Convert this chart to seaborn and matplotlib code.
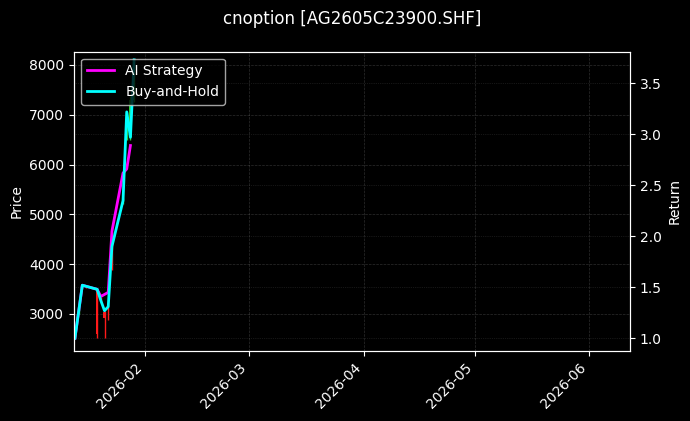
import matplotlib
matplotlib.use("Agg")
import matplotlib.pyplot as plt
import matplotlib.dates as mdates
import seaborn as sns
import pandas as pd
import numpy as np

# ---- data ----
dates = ["2026-01-13", "2026-01-14", "2026-01-15", "2026-01-16", "2026-01-19",
         "2026-01-20", "2026-01-21", "2026-01-22", "2026-01-23", "2026-01-26",
         "2026-01-27", "2026-01-28", "2026-01-29"]
opens  = [2530, 3000, 3540, 3570, 3500, 3300, 3040, 3150, 4350, 5240, 6600, 6550, 7300]
highs  = [2580, 3110, 3610, 3590, 3520, 3340, 3060, 3200, 4650, 5320, 7050, 7380, 7994]
lows   = [2518, 2990, 3520, 3530, 2518, 3230, 2518, 2880, 3880, 5200, 6500, 6500, 7250]
closes = [2560, 3080, 3590, 3550, 2600, 3250, 2920, 3100, 4000, 5300, 7000, 7300, 7950]
bh_returns = [1.00, 1.26, 1.52, 1.51, 1.48, 1.37, 1.27, 1.31, 1.90, 2.35, 3.22, 2.97, 3.73]
ai_returns = [1.00, 1.26, 1.52, 1.51, 1.48, 1.41, 1.43, 1.45, 2.05, 2.62, 2.66, 2.89, np.nan]
title = "cnoption [AG2605C23900.SHF]"

df = pd.DataFrame({
    "date": pd.to_datetime(dates),
    "open": opens, "high": highs, "low": lows, "close": closes,
    "bh": bh_returns, "ai": ai_returns,
})

plt.style.use("dark_background")
fig, ax1 = plt.subplots(figsize=(6.9, 4.21), dpi=100)
fig.subplots_adjust(left=74 / 690, right=630 / 690, top=1 - 51.7 / 421, bottom=1 - 350.7 / 421)

# candlesticks on price axis
up = df["close"] >= df["open"]
colors = np.where(up, "#2ecc40", "#ff1a1a")
ax1.vlines(df["date"], df["low"], df["high"], colors=colors, linewidth=1)
ax1.bar(df["date"], (df["close"] - df["open"]).abs(),
        bottom=np.minimum(df["open"], df["close"]), width=0.6, color=colors, linewidth=0)
ax1.set_ylabel("Price", color="white", fontsize=10)
ax1.set_ylim(2263, 8267)
ax1.grid(True, linestyle="--", linewidth=0.5, alpha=0.35, color="gray")

# returns on right axis
ax2 = ax1.twinx()
sns.lineplot(data=df, x="date", y="ai", ax=ax2, color="#ff00ff", linewidth=2, label="AI Strategy")
sns.lineplot(data=df, x="date", y="bh", ax=ax2, color="#00ffff", linewidth=2, label="Buy-and-Hold")
ax2.set_ylabel("Return", color="white", fontsize=10)
ax2.set_xlabel("")
ax1.set_xlabel("")
ax2.set_ylim(0.878, 3.81)
ax2.grid(True, linestyle=":", linewidth=0.5, alpha=0.35, color="gray")
ax2.legend(loc="upper left", fontsize=10, framealpha=0.8, facecolor="black", edgecolor="0.8")

ax1.set_xlim(pd.Timestamp("2026-01-12 18:00"), pd.Timestamp("2026-06-12"))
ax1.xaxis.set_major_locator(mdates.MonthLocator())
ax1.xaxis.set_major_formatter(mdates.DateFormatter("%Y-%m"))
plt.setp(ax1.get_xticklabels(), rotation=45, ha="right")

for ax in (ax1, ax2):
    for s in ax.spines.values():
        s.set_color("white")
    ax.tick_params(colors="white", labelsize=10)

ax1.set_title(title, color="white", fontsize=12, pad=20)

fig.savefig("out.png", dpi=100, facecolor="black")
